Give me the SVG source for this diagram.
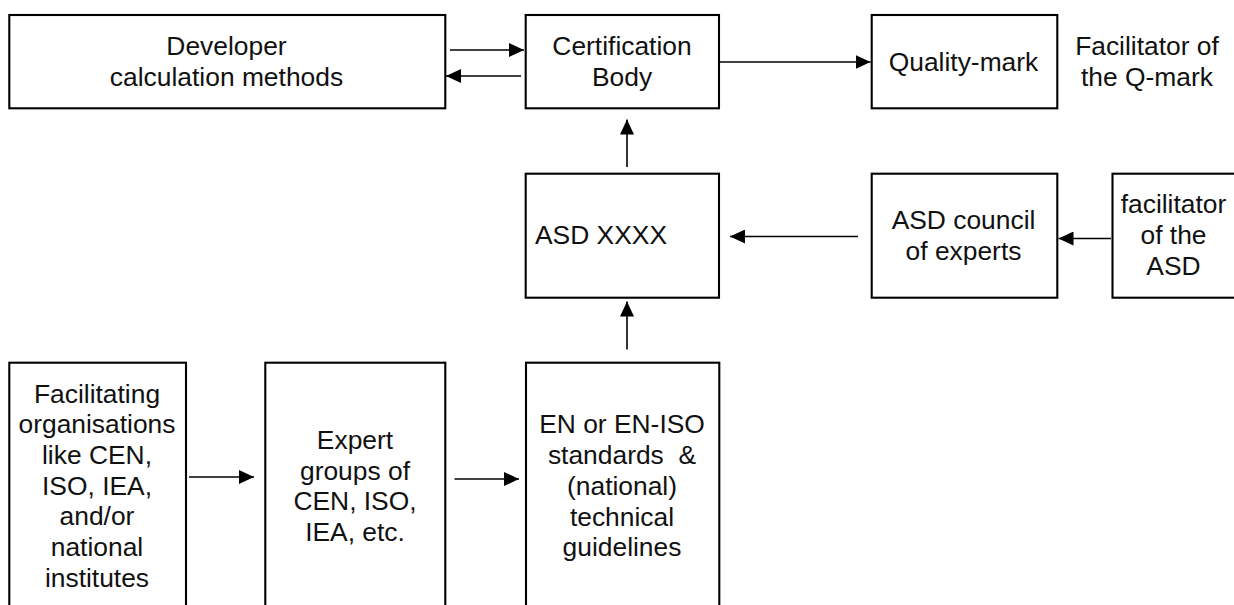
<svg xmlns="http://www.w3.org/2000/svg" width="1234" height="605" viewBox="0 0 1234 605">
<style>
.box{fill:#fff;stroke:#000;stroke-width:2.1}
.t{font-family:"Liberation Sans",Arial,sans-serif;font-size:26.4px;fill:#111;text-anchor:middle}
.conn line{stroke:#000;stroke-width:1.6;marker-end:url(#ah)}
</style>
<defs>
<marker id="ah" markerUnits="userSpaceOnUse" markerWidth="15" markerHeight="14" refX="15" refY="7" orient="auto">
<path d="M0,0 L15,7 L0,14 z" fill="#000"/>
</marker>
</defs>
<rect width="1234" height="605" fill="#fff"/>
<g id="developer">
<rect class="box" x="9.3" y="15" width="436" height="93.3"/>
<text class="t" x="226.5" y="55">Developer</text>
<text class="t" x="226.5" y="86">calculation methods</text>
</g>
<g id="certification">
<rect class="box" x="525.7" y="15" width="193.3" height="93.3"/>
<text class="t" x="622" y="55">Certification</text>
<text class="t" x="622" y="86">Body</text>
</g>
<g id="qualitymark">
<rect class="box" x="871.7" y="15" width="185.6" height="93.3"/>
<text class="t" x="963.5" y="70.7">Quality-mark</text>
</g>
<g id="facilitator-qmark">
<text class="t" x="1147" y="55">Facilitator of</text>
<text class="t" x="1147" y="86">the Q-mark</text>
</g>
<g id="asd">
<rect class="box" x="525.7" y="173.7" width="193.3" height="124"/>
<text class="t" x="535" y="244.3" style="text-anchor:start">ASD XXXX</text>
</g>
<g id="council">
<rect class="box" x="871.7" y="173.7" width="185.6" height="124"/>
<text class="t" x="963.5" y="229">ASD council</text>
<text class="t" x="963.5" y="259.5">of experts</text>
</g>
<g id="facilitator-asd">
<rect class="box" x="1112.5" y="173.7" width="140" height="124"/>
<text class="t" x="1173.5" y="213.3">facilitator</text>
<text class="t" x="1173.5" y="244">of the</text>
<text class="t" x="1173.5" y="274.5">ASD</text>
</g>
<g id="facilitating">
<rect class="box" x="9.3" y="362.7" width="176.7" height="300"/>
<text class="t" x="97" y="402.7">Facilitating</text>
<text class="t" x="97" y="433.3">organisations</text>
<text class="t" x="97" y="463.8">like CEN,</text>
<text class="t" x="97" y="494.5">ISO, IEA,</text>
<text class="t" x="97" y="525">and/or</text>
<text class="t" x="97" y="556">national</text>
<text class="t" x="97" y="586.5">institutes</text>
</g>
<g id="expert">
<rect class="box" x="265.3" y="362.7" width="180" height="300"/>
<text class="t" x="355" y="449.3">Expert</text>
<text class="t" x="355" y="479.5">groups of</text>
<text class="t" x="355" y="510">CEN, ISO,</text>
<text class="t" x="355" y="540.7">IEA, etc.</text>
</g>
<g id="standards">
<rect class="box" x="526" y="362.7" width="193.3" height="300"/>
<text class="t" x="622" y="433.3">EN or EN-ISO</text>
<text class="t" x="622" y="464" style="white-space:pre">standards  &amp;</text>
<text class="t" x="622" y="494.7">(national)</text>
<text class="t" x="622" y="525.5">technical</text>
<text class="t" x="622" y="556">guidelines</text>
</g>
<g id="connectors" class="conn">
<line x1="450" y1="50" x2="524" y2="50"/>
<line x1="521" y1="76" x2="446" y2="76"/>
<line x1="719" y1="62" x2="870.5" y2="62"/>
<line x1="627" y1="167" x2="627" y2="119.5"/>
<line x1="627" y1="349.5" x2="627" y2="301.5"/>
<line x1="858" y1="236.5" x2="730" y2="236.5"/>
<line x1="1111" y1="238.5" x2="1058.5" y2="238.5"/>
<line x1="189" y1="477" x2="254" y2="477"/>
<line x1="454.5" y1="479" x2="519" y2="479"/>
</g>
</svg>
